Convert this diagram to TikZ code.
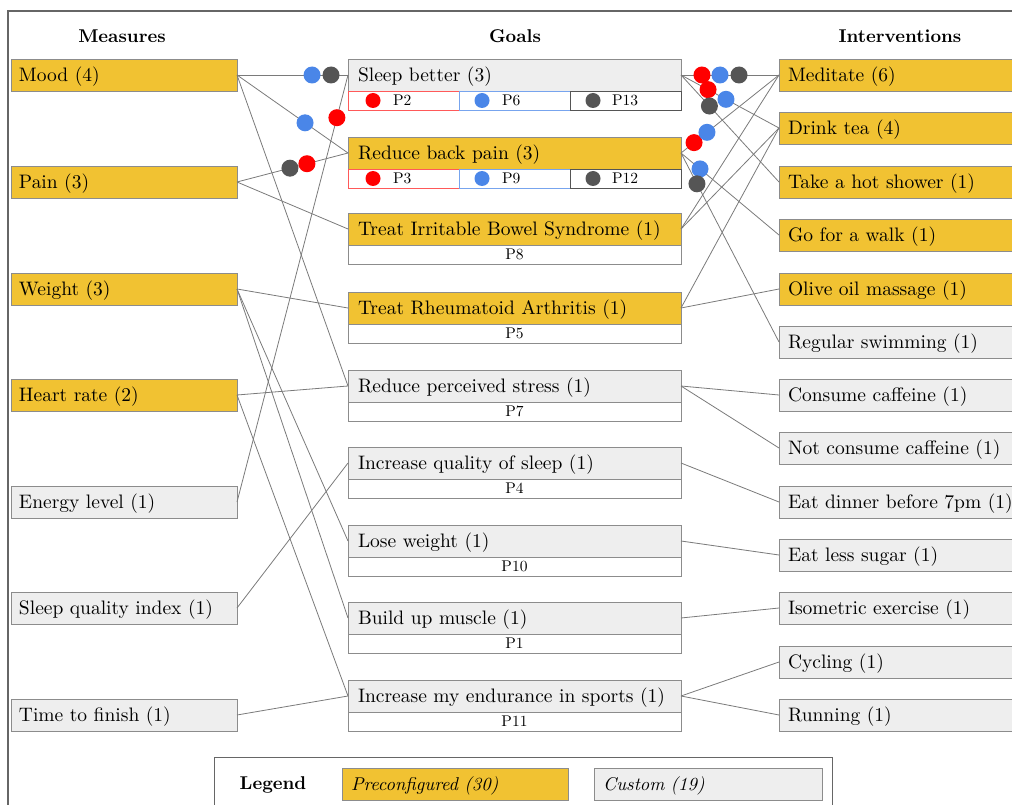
\documentclass[tikz,border=0pt]{standalone}
\usepackage{fontspec}
\setmainfont{lmroman10-regular.otf}[BoldFont=lmroman10-bold.otf, ItalicFont=lmroman10-italic.otf, BoldItalicFont=lmroman10-bolditalic.otf]
\definecolor{yel}{HTML}{F1C232}
\definecolor{cgr}{HTML}{EEEEEE}
\definecolor{bdr}{HTML}{8C8C8C}
\definecolor{lnk}{HTML}{7A7A7A}
\definecolor{dred}{HTML}{FF0000}
\definecolor{dblue}{HTML}{4A86E8}
\definecolor{dgray}{HTML}{555555}
\definecolor{frm}{HTML}{666666}
\begin{document}
\begin{tikzpicture}[x=1pt,y=-1pt,
  every node/.style={outer sep=0pt},
  box/.style={draw=bdr, line width=0.8pt, minimum height=32pt, inner ysep=0pt, text height=16pt, text depth=3pt, align=left, font=\fontsize{19.5}{22}\selectfont},
  mbox/.style={box, text width=210pt, inner xsep=8pt, anchor=west},
  gbox/.style={box, text width=313pt, inner xsep=10pt, anchor=north west},
  ibox/.style={box, text width=242pt, inner xsep=9pt, anchor=west},
  pre/.style={fill=yel}, cus/.style={fill=cgr},
  subb/.style={draw=bdr, line width=0.8pt, fill=white, minimum height=19pt, inner sep=0pt, anchor=north west, font=\fontsize{15.5}{16}\selectfont},
  subt/.style={anchor=west, inner sep=0pt, font=\fontsize{15.5}{16}\selectfont},
  link/.style={draw=lnk, line width=0.8pt},
  ldot/.style={circle, inner sep=0pt, minimum size=17pt},
  sdot/.style={circle, inner sep=0pt, minimum size=15pt},
  hdr/.style={font=\bfseries\fontsize{18.5}{20}\selectfont}
]
\useasboundingbox (0,0) rectangle (1012,805);
% frame
\draw[frm, line width=1.2pt] (8,830) -- (8,11) -- (1030,11);
% headers
\node[hdr] (hm) at (122,36) {Measures};
\node[hdr] (hg) at (515,36) {Goals};
\node[hdr] (hi) at (900,36) {Interventions};
% measures
\node[mbox, pre] (mood) at (11,75) {Mood (4)};
\node[mbox, pre] (pain) at (11,182) {Pain (3)};
\node[mbox, pre] (weight) at (11,289) {Weight (3)};
\node[mbox, pre] (heart) at (11,395) {Heart rate (2)};
\node[mbox, cus] (energy) at (11,502) {Energy level (1)};
\node[mbox, cus] (sqi) at (11,608) {Sleep quality index (1)};
\node[mbox, cus] (time) at (11,715) {Time to finish (1)};
% goals
\node[gbox, cus] (sleep) at (348,59) {Sleep better (3)};
\node[gbox, pre] (back) at (348,137) {Reduce back pain (3)};
\node[gbox, pre] (ibs) at (348,213) {Treat Irritable Bowel Syndrome (1)};
\node[gbox, pre] (ra) at (348,292) {Treat Rheumatoid Arthritis (1)};
\node[gbox, cus] (stress) at (348,370) {Reduce perceived stress (1)};
\node[gbox, cus] (quality) at (348,447) {Increase quality of sleep (1)};
\node[gbox, cus] (lose) at (348,525) {Lose weight (1)};
\node[gbox, cus] (build) at (348,602) {Build up muscle (1)};
\node[gbox, cus] (endur) at (348,680) {Increase my endurance in sports (1)};
% sub boxes with participants
\node[subb, draw=red!65, minimum width=111pt] (sP2) at (348,91) {};
\node[subb, draw=dblue!75, minimum width=111pt] (sP6) at (459,91) {};
\node[subb, draw=dgray, minimum width=111pt] (sP13) at (570,91) {};
\node[sdot, fill=dred] (sP2d) at (373,100.5) {};
\node[sdot, fill=dblue] (sP6d) at (482,100.5) {};
\node[sdot, fill=dgray] (sP13d) at (593,100.5) {};
\node[subt] (sP2t) at (393,100.5) {P2};
\node[subt] (sP6t) at (502,100.5) {P6};
\node[subt] (sP13t) at (612,100.5) {P13};
\node[subb, draw=red!65, minimum width=111pt] (bP3) at (348,169) {};
\node[subb, draw=dblue!75, minimum width=111pt] (bP9) at (459,169) {};
\node[subb, draw=dgray, minimum width=111pt] (bP12) at (570,169) {};
\node[sdot, fill=dred] (bP3d) at (373,178.5) {};
\node[sdot, fill=dblue] (bP9d) at (482,178.5) {};
\node[sdot, fill=dgray] (bP12d) at (593,178.5) {};
\node[subt] (bP3t) at (393,178.5) {P3};
\node[subt] (bP9t) at (502,178.5) {P9};
\node[subt] (bP12t) at (612,178.5) {P12};
\node[subb, minimum width=333pt] (iP8) at (348,245) {P8};
\node[subb, minimum width=333pt] (rP5) at (348,324) {P5};
\node[subb, minimum width=333pt] (stP7) at (348,402) {P7};
\node[subb, minimum width=333pt] (qP4) at (348,479) {P4};
\node[subb, minimum width=333pt] (lP10) at (348,557) {P10};
\node[subb, minimum width=333pt] (bP1) at (348,634) {P1};
\node[subb, minimum width=333pt] (eP11) at (348,712) {P11};
% interventions
\node[ibox, pre] (med) at (779,75) {Meditate (6)};
\node[ibox, pre] (tea) at (779,128) {Drink tea (4)};
\node[ibox, pre] (shower) at (779,182) {Take a hot shower (1)};
\node[ibox, pre] (walk) at (779,235) {Go for a walk (1)};
\node[ibox, pre] (olive) at (779,289) {Olive oil massage (1)};
\node[ibox, cus] (swim) at (779,342) {Regular swimming (1)};
\node[ibox, cus] (caff) at (779,395) {Consume caffeine (1)};
\node[ibox, cus] (ncaff) at (779,448) {Not consume caffeine (1)};
\node[ibox, cus] (dinner) at (779,502) {Eat dinner before 7pm (1)};
\node[ibox, cus] (sugar) at (779,555) {Eat less sugar (1)};
\node[ibox, cus] (iso) at (779,608) {Isometric exercise (1)};
\node[ibox, cus] (cyc) at (779,662) {Cycling (1)};
\node[ibox, cus] (run) at (779,715) {Running (1)};
% links measures -> goals
\draw[link] (mood.east) -- (sleep.west);
\draw[link] (mood.east) -- (back.west);
\draw[link] (mood.east) -- (stress.west);
\draw[link] (pain.east) -- (back.west);
\draw[link] (pain.east) -- (ibs.west);
\draw[link] (weight.east) -- (ra.west);
\draw[link] (weight.east) -- (lose.west);
\draw[link] (weight.east) -- (build.west);
\draw[link] (heart.east) -- (stress.west);
\draw[link] (heart.east) -- (endur.west);
\draw[link] (energy.east) -- (sleep.west);
\draw[link] (sqi.east) -- (quality.west);
\draw[link] (time.east) -- (endur.west);
% links goals -> interventions
\draw[link] (sleep.east) -- (med.west);
\draw[link] (sleep.east) -- (tea.west);
\draw[link] (sleep.east) -- (shower.west);
\draw[link] (back.east) -- (med.west);
\draw[link] (back.east) -- (walk.west);
\draw[link] (back.east) -- (swim.west);
\draw[link] (ibs.east) -- (med.west);
\draw[link] (ibs.east) -- (tea.west);
\draw[link] (ra.east) -- (olive.west);
\draw[link] (ra.east) -- (tea.west);
\draw[link] (stress.east) -- (caff.west);
\draw[link] (stress.east) -- (ncaff.west);
\draw[link] (quality.east) -- (dinner.west);
\draw[link] (lose.east) -- (sugar.west);
\draw[link] (build.east) -- (iso.west);
\draw[link] (endur.east) -- (cyc.west);
\draw[link] (endur.east) -- (run.west);
% participant dots on links
\path (mood.east) -- (sleep.west) node[ldot, fill=dblue, pos=0.676] (d1) {} node[ldot, fill=dgray, pos=0.847] (d2) {};
\path (mood.east) -- (back.west) node[ldot, fill=dblue, pos=0.613] (d3) {};
\path (energy.east) -- (sleep.west) node[ldot, fill=dred, pos=0.90] (d4) {};
\path (pain.east) -- (back.west) node[ldot, fill=dgray, pos=0.477] (d5) {} node[ldot, fill=dred, pos=0.63] (d6) {};
\path (sleep.east) -- (med.west) node[ldot, fill=dred, pos=0.214] (d7) {} node[ldot, fill=dblue, pos=0.398] (d8) {} node[ldot, fill=dgray, pos=0.592] (d9) {};
\path (sleep.east) -- (tea.west) node[ldot, fill=dred, pos=0.276] (d10) {} node[ldot, fill=dblue, pos=0.459] (d11) {};
\path (sleep.east) -- (shower.west) node[ldot, fill=dgray, pos=0.29] (d12) {};
\path (back.east) -- (med.west) node[ldot, fill=dred, pos=0.133] (d13) {} node[ldot, fill=dblue, pos=0.265] (d14) {};
\path (back.east) -- (walk.west) node[ldot, fill=dblue, pos=0.194] (d15) {};
\path (back.east) -- (swim.west) node[ldot, fill=dgray, pos=0.163] (d16) {};
% legend
\draw[frm, line width=0.9pt] (214,830) -- (214,757) -- (832,757) -- (832,830);
\node[hdr] (leg) at (273,785) {Legend};
\node[box, fill=yel, text width=208pt, inner xsep=9pt, anchor=north west, font=\itshape\fontsize{18.5}{22}\selectfont] (lpre) at (342,768) {Preconfigured (30)};
\node[box, fill=cgr, text width=210pt, inner xsep=9pt, anchor=north west, font=\itshape\fontsize{18.5}{22}\selectfont] (lcus) at (594,768) {Custom (19)};
\end{tikzpicture}
\end{document}
